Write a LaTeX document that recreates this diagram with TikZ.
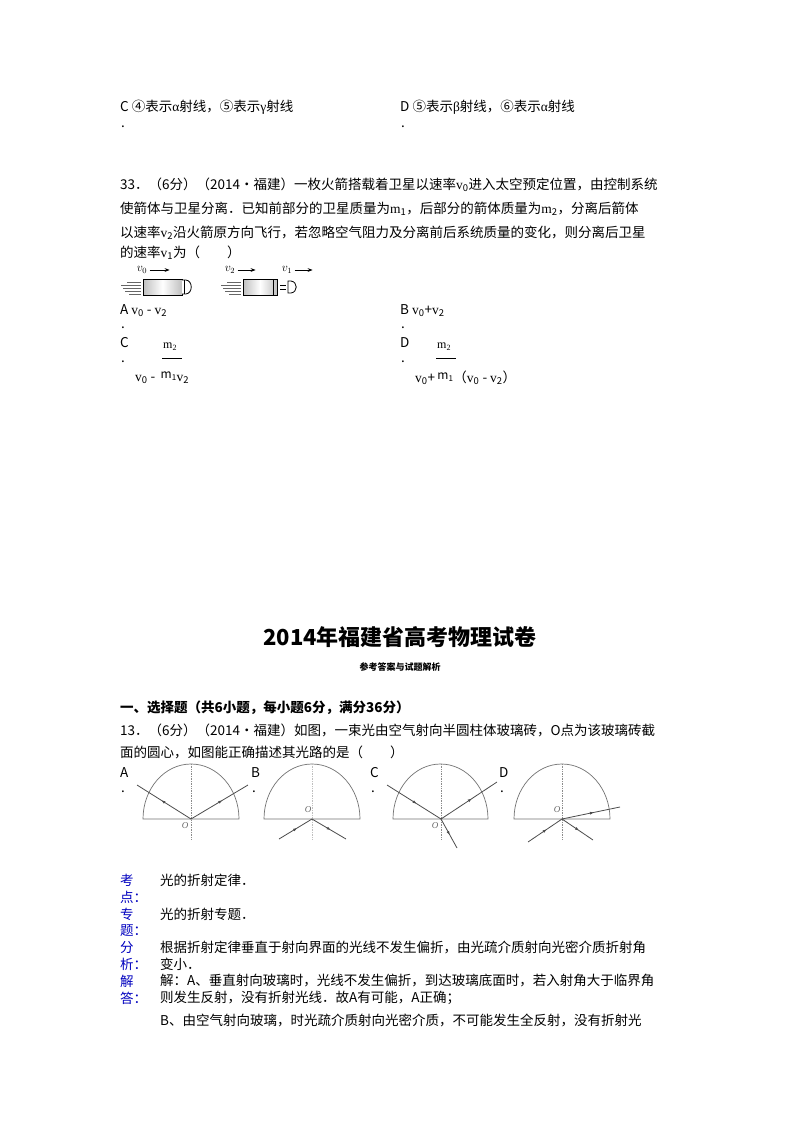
\documentclass[tikz,border=0pt]{standalone}
\usepackage{fontspec}
\setmainfont{Liberation Serif}
\newfontfamily\cjk{Noto Sans CJK SC}
\usetikzlibrary{decorations.markings,arrows.meta}
\tikzset{
 txt/.style={anchor=west,inner sep=0,font=\fontsize{13.5}{16}\selectfont\cjk},
 blue/.style={txt,text=blue!75!black},
 vl/.style={inner sep=0,font=\fontsize{12}{14}\selectfont\itshape\bfseries},
 ray/.style={draw=black!70,line width=0.8pt,postaction={decorate},decoration={markings,mark=at position 0.55 with {\arrow{Latex[length=4pt,width=3pt]}}}},
 semi/.style={draw=black!55,line width=0.7pt},
 norm/.style={draw=black!45,densely dotted,line width=0.7pt},
 olab/.style={inner sep=0,font=\fontsize{9}{10}\selectfont\itshape,text=black!60},
}
\newcommand{\lv}[1]{\textrm{v}\textsubscript{#1}}
\begin{document}
\begin{tikzpicture}[x=1pt,y=-1pt]
\useasboundingbox (0,0) rectangle (800,1132);
\fill[white] (0,0) rectangle (800,1132);
% top options
\node[txt] (c) at (120,107) {C ④表示\textrm{α}射线，⑤表示\textrm{γ}射线};
\node[txt] (d) at (400,107) {D ⑤表示\textrm{β}射线，⑥表示\textrm{α}射线};
\node[txt] (cd) at (121,127) {.};
\node[txt] (dd) at (401,127) {.};
% question 33
\node[txt] (q1) at (120,185) {33．（6分）（2014\textbullet 福建）一枚火箭搭载着卫星以速率\lv{0}进入太空预定位置，由控制系统};
\node[txt] (q2) at (120,209) {使箭体与卫星分离．已知前部分的卫星质量为\textrm{m}\textsubscript{1}，后部分的箭体质量为\textrm{m}\textsubscript{2}，分离后箭体};
\node[txt] (q3) at (120,233) {以速率\lv{2}沿火箭原方向飞行，若忽略空气阻力及分离前后系统质量的变化，则分离后卫星};
\node[txt] (q4) at (120,253) {的速率\lv{1}为（\quad\quad）};
% rocket figure
\begin{scope}[line width=0.8pt]
\node[vl] (v0) at (142,270) {$v_0$};
\draw[-{Stealth[length=5pt]}] (v0.east)++(2,0) -- ++(20,0);
\shade[left color=black!25,right color=black!25,middle color=white,draw] (143,279) rectangle (182,295);
\draw[fill=white] (182,280) -- (186,280) .. controls (193,281) and (193,293) .. (186,294) -- (182,294);
\draw (184,280)--(184,294);
\foreach \yy/\l in {282/14,285/20,288/18,291/16,294/12}{\draw[black!60,line width=0.5pt] (141-\l,\yy) -- (141,\yy);}
\node[vl] (v2) at (230,270) {$v_2$};
\draw[-{Stealth[length=5pt]}] (v2.east)++(2,0) -- ++(18,0);
\node[vl] (v1) at (287,270) {$v_1$};
\draw[-{Stealth[length=5pt]}] (v1.east)++(2,0) -- ++(18,0);
\shade[left color=black!25,right color=black!25,middle color=white,draw] (243,279) rectangle (277,295);
\draw (273,279)--(273,295);
\draw[line width=0.5pt] (280,285)--(286,285) (280,289)--(286,289);
\draw[fill=white] (288,281) -- (291,281) .. controls (298,282) and (298,292) .. (291,293) -- (288,293) -- cycle;
\foreach \yy/\l in {282/14,285/20,288/18,291/16,294/12}{\draw[black!60,line width=0.5pt] (241-\l,\yy) -- (241,\yy);}
\end{scope}
% answers
\node[txt] (a) at (120,311) {A \lv{0} - \lv{2}};
\node[txt] (ad) at (121,328) {.};
\node[txt] (b) at (400,311) {B \lv{0}+\lv{2}};
\node[txt] (bd) at (401,328) {.};
\node[txt] (cc) at (120,343) {C};
\node[txt] (ccd) at (121,362) {.};
\node[txt,font=\large] (cm2) at (163,347) {m\textsubscript{2}};
\draw (162,358) -- (182,358);
\node[txt] (cv) at (135,378) {\lv{0} - \,\raisebox{3pt}{\large m\textsubscript{1}}\lv{2}};
\node[txt] (dd2) at (400,343) {D};
\node[txt] (ddd) at (401,362) {.};
\node[txt,font=\large] (dm2) at (437,347) {m\textsubscript{2}};
\draw (436,358) -- (456,358);
\node[txt] (dv) at (415,378) {\lv{0}+\,\raisebox{3pt}{\large m\textsubscript{1}}（\lv{0} - \lv{2}）};
% title
\node[inner sep=0,font=\fontsize{22}{26}\selectfont\bfseries\cjk] (title) at (400,637) {2014年福建省高考物理试卷};
\node[inner sep=0,font=\fontsize{9}{11}\selectfont\bfseries\cjk] (sub) at (400,667) {参考答案与试题解析};
\node[txt,font=\fontsize{13.5}{16}\selectfont\bfseries\cjk] (sec) at (120,708) {一、选择题（共6小题，每小题6分，满分36分）};
\node[txt] (p1) at (120,730) {13．（6分）（2014\textbullet 福建）如图，一束光由空气射向半圆柱体玻璃砖，O点为该玻璃砖截};
\node[txt] (p2) at (120,752) {面的圆心，如图能正确描述其光路的是（\quad\quad）};
% figure labels
\node[txt] (la) at (120,773) {A}; \node[txt] (lad) at (121,792) {.};
\node[txt] (lb) at (251,773) {B}; \node[txt] (lbd) at (252,792) {.};
\node[txt] (lc) at (370,773) {C}; \node[txt] (lcd) at (371,792) {.};
\node[txt] (ld) at (499,773) {D}; \node[txt] (ldd) at (500,792) {.};
% fig A
\draw[semi] (143,819) -- (239,819) arc (0:-180:48 and 55) -- cycle;
\draw[norm] (191,764) -- (191,840);
\node[olab] (oa) at (185,826) {O};
\draw[ray] (191,819) -- (137,785);
\draw[ray] (191,819) -- (248,785);
% fig B
\draw[semi] (264,819) -- (360,819) arc (0:-180:48 and 55) -- cycle;
\draw[norm,black!25] (312,764) -- (312,840);
\node[olab] (ob) at (308,810) {O};
\draw[ray] (279,839) -- (312,819);
\draw[ray] (312,819) -- (346,839);
% fig C
\draw[semi] (393,819) -- (488,819) arc (0:-180:47.5 and 55) -- cycle;
\draw[norm] (441,764) -- (441,840);
\node[olab] (oc) at (435,826) {O};
\draw[ray] (387,785) -- (441,819);
\draw[ray] (441,819) -- (497,782);
\draw[ray] (441,819) -- (457,848);
% fig D
\draw[semi] (514,819) -- (610,819) arc (0:-180:48 and 55) -- cycle;
\draw[norm] (562,764) -- (562,840);
\node[olab] (od) at (557,810) {O};
\draw[ray] (528,842) -- (562,819);
\draw[ray] (562,819) -- (593,840);
\draw[ray] (562,819) -- (620,807);
% analysis
\node[blue] (k1) at (120,880) {考}; \node[blue] (k2) at (120,897) {点：};
\node[txt] (kt) at (160,880) {光的折射定律．};
\node[blue] (z1) at (120,914) {专}; \node[blue] (z2) at (120,931) {题：};
\node[txt] (zt) at (160,914) {光的折射专题．};
\node[blue] (f1) at (120,947) {分}; \node[blue] (f2) at (120,964) {析：};
\node[txt] (ft1) at (160,947) {根据折射定律垂直于射向界面的光线不发生偏折，由光疏介质射向光密介质折射角};
\node[txt] (ft2) at (160,964) {变小．};
\node[blue] (j1) at (120,981) {解}; \node[blue] (j2) at (120,998) {答：};
\node[txt] (jt1) at (160,981) {解：A、垂直射向玻璃时，光线不发生偏折，到达玻璃底面时，若入射角大于临界角};
\node[txt] (jt2) at (160,998) {则发生反射，没有折射光线．故A有可能，A正确；};
\node[txt] (jt3) at (160,1020) {B、由空气射向玻璃，时光疏介质射向光密介质，不可能发生全反射，没有折射光};
\end{tikzpicture}
\end{document}
